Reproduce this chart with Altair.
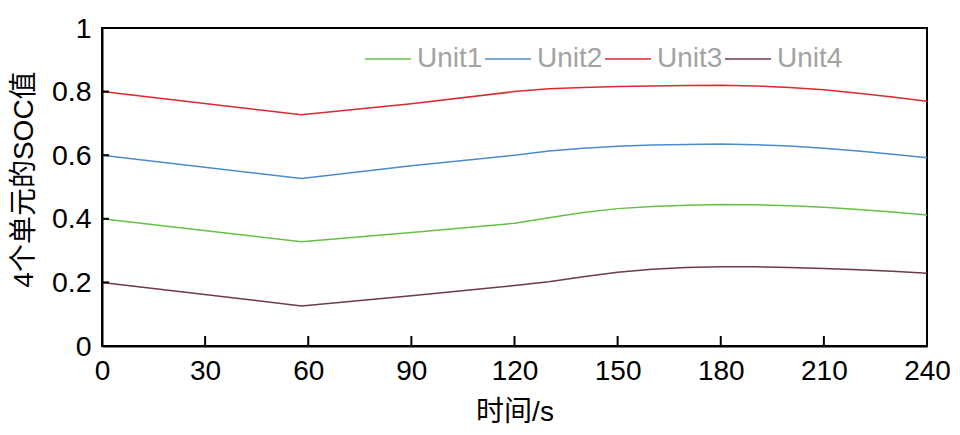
import altair as alt
import pandas as pd

# time points (s)
t = [0, 58, 90, 120, 130, 140, 150, 160, 170, 180, 190, 200, 210, 220, 230, 240]
unit1 = [0.400, 0.328, 0.357, 0.386, 0.403, 0.420, 0.432, 0.439, 0.443, 0.445, 0.444, 0.441, 0.436, 0.429, 0.421, 0.412]
unit2 = [0.600, 0.527, 0.567, 0.600, 0.613, 0.622, 0.628, 0.632, 0.634, 0.635, 0.633, 0.629, 0.622, 0.613, 0.603, 0.592]
unit3 = [0.800, 0.727, 0.762, 0.800, 0.809, 0.813, 0.816, 0.818, 0.819, 0.820, 0.818, 0.813, 0.806, 0.795, 0.783, 0.770]
unit4 = [0.200, 0.126, 0.158, 0.190, 0.202, 0.218, 0.232, 0.241, 0.247, 0.249, 0.249, 0.247, 0.244, 0.240, 0.235, 0.229]
series_names = ["Unit1", "Unit2", "Unit3", "Unit4"]
series_colors = ["#66bf44", "#4a8bcf", "#e0262c", "#6d3a4c"]
x_ticks = [30, 60, 90, 120, 150, 180, 210]
y_ticks = [0.2, 0.4, 0.6, 0.8]
x_labels = [0, 30, 60, 90, 120, 150, 180, 210, 240]
y_labels = [0, 0.2, 0.4, 0.6, 0.8, 1]

rows = []
for name, vals in zip(series_names, [unit1, unit2, unit3, unit4]):
    for xi, yi in zip(t, vals):
        rows.append({"time": xi, "soc": yi, "unit": name})
df = pd.DataFrame(rows)

FONT = "Liberation Sans, Arial, Noto Sans CJK SC"
W, H = 825, 318

xscale = alt.Scale(domain=[0, 240], nice=False, zero=False)
yscale = alt.Scale(domain=[0, 1], nice=False)

x_axis = alt.Axis(title="时间/s", values=x_labels,
                  ticks=False, grid=False, labelFontSize=28, labelPadding=11,
                  titleFontSize=28, titlePadding=13, titleFontWeight="normal",
                  domainColor="black", domainWidth=2, labelColor="black",
                  titleColor="black", labelFont=FONT, titleFont=FONT,
                  labelFlush=False)
y_axis = alt.Axis(title="4个单元的SOC值", values=y_labels,
                  format="~g", ticks=False, grid=False, labelFontSize=28.5,
                  labelPadding=11, titleFontSize=28, titlePadding=13, titleY=151,
                  titleFontWeight="normal", domainColor="black", domainWidth=2,
                  labelColor="black", titleColor="black", labelFont=FONT,
                  titleFont=FONT, labelFlush=False)

lines = alt.Chart(df).mark_line(strokeWidth=1.5).encode(
    x=alt.X("time:Q", scale=xscale, axis=x_axis),
    y=alt.Y("soc:Q", scale=yscale, axis=y_axis),
    color=alt.Color("unit:N", scale=alt.Scale(domain=series_names, range=series_colors),
                    legend=alt.Legend(title=None, orient="none", direction="horizontal",
                                      legendX=262, legendY=7, symbolType="stroke",
                                      symbolSize=2116, symbolStrokeWidth=1.5,
                                      labelFontSize=28, labelColor="#a3a3a3",
                                      labelFont=FONT, labelOffset=5, columnPadding=-1)),
)

xt = alt.Chart(pd.DataFrame({"time": x_ticks})).mark_rule(color="black", strokeWidth=2).encode(
    x=alt.X("time:Q", scale=xscale, axis=x_axis),
    y=alt.value(H),
    y2=alt.value(H - 10),
)
yt = alt.Chart(pd.DataFrame({"soc": y_ticks})).mark_rule(color="black", strokeWidth=2).encode(
    y=alt.Y("soc:Q", scale=yscale, axis=y_axis),
    x=alt.value(0),
    x2=alt.value(7),
)

chart = alt.layer(lines, xt, yt).properties(
    width=W, height=H,
    autosize=alt.AutoSizeParams(type="none"),
    padding={"left": 94, "top": 20, "right": 25, "bottom": 80},
).configure(background="white").configure_view(stroke="black", strokeWidth=2)

chart.save("out.html", embed_options={"renderer": "svg", "actions": False})
